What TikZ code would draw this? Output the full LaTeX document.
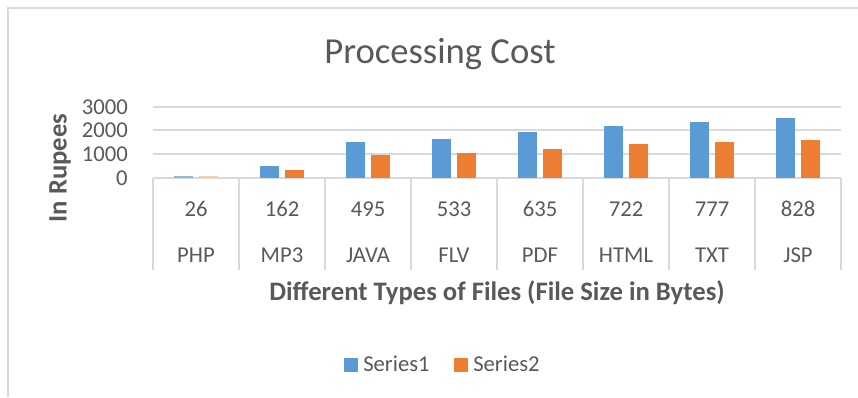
\documentclass[tikz,border=0pt]{standalone}
\usepackage{fontspec}
\setmainfont{Carlito}
\definecolor{txtgray}{HTML}{595959}
\definecolor{gridgray}{HTML}{D9D9D9}
\definecolor{seriesA}{HTML}{5B9BD5}
\definecolor{seriesB}{HTML}{ED7D31}
\tikzset{
  lbl/.style={text=txtgray, inner sep=0pt, anchor=base},
  ticklbl/.style={lbl, font=\fontsize{17}{20}\selectfont},
  titlelbl/.style={lbl, font=\fontsize{27.5}{32}\selectfont},
  axislbl/.style={lbl, font=\bfseries\fontsize{20}{24}\selectfont},
  gridline/.style={draw=gridgray, line width=1.1pt},
}
\begin{document}
\begin{tikzpicture}[x=0.75pt, y=-0.75pt]
  \useasboundingbox (0,0) rectangle (858,397);
  % chart frame (top and left edges)
  \draw[draw=gridgray, line width=1.5pt] (8,397) -- (8,8) -- (858,8);
  % title
  \node[titlelbl] (title) at (440,63) {Processing Cost};
  % horizontal grid lines
  \foreach \yy in {107,130,154} \draw[gridline] (153,\yy) -- (841,\yy);
  \draw[gridline] (153,178) -- (841,178);
  % category separators
  \foreach \k in {0,...,8} \draw[gridline] (153+86*\k,178) -- (153+86*\k,270);
  % value axis labels
  \node[ticklbl, anchor=base east] (t3) at (128,114.5) {3000};
  \node[ticklbl, anchor=base east] (t2) at (128,137.5) {2000};
  \node[ticklbl, anchor=base east] (t1) at (128,161.5) {1000};
  \node[ticklbl, anchor=base east] (t0) at (128,185.5) {0};
  % very short PHP bars
  \fill[seriesA!70] (173.5,178) rectangle (192.5,176.2);
  \fill[seriesB!40] (199,178) rectangle (218,176.2);
  % remaining bars
  \foreach \i/\va/\vb in {1/506/340, 2/1520/970, 3/1635/1043, 4/1943/1225,
      5/2210/1436, 6/2366/1521, 7/2535/1592} {
    \pgfmathsetmacro{\cx}{196+86*\i}
    \fill[seriesA] (\cx-22.5,178) rectangle (\cx-3.5,178-\va*0.02367);
    \fill[seriesB] (\cx+3,178) rectangle (\cx+22,178-\vb*0.02367);
  }
  % category labels: file size and file type
  \foreach \i/\sz/\nm in {0/26/PHP, 1/162/MP3, 2/495/JAVA, 3/533/FLV,
      4/635/PDF, 5/722/HTML, 6/777/TXT, 7/828/JSP} {
    \node[ticklbl] (size\i) at (196+86*\i,216.7) {\sz};
    \node[ticklbl] (type\i) at (196+86*\i,262.7) {\nm};
  }
  % axis titles
  \node[axislbl] (xtitle) at (497,300.5) {Different Types of Files (File Size in Bytes)};
  \node[axislbl, rotate=90] (ytitle) at (66.5,168) {In Rupees};
  % legend
  \fill[seriesA] (344,357.5) rectangle (358,371.5);
  \node[ticklbl, anchor=base west] (legA) at (363,371.5) {Series1};
  \fill[seriesB] (454,357.5) rectangle (468,371.5);
  \node[ticklbl, anchor=base west] (legB) at (473,371.5) {Series2};
\end{tikzpicture}
\end{document}
